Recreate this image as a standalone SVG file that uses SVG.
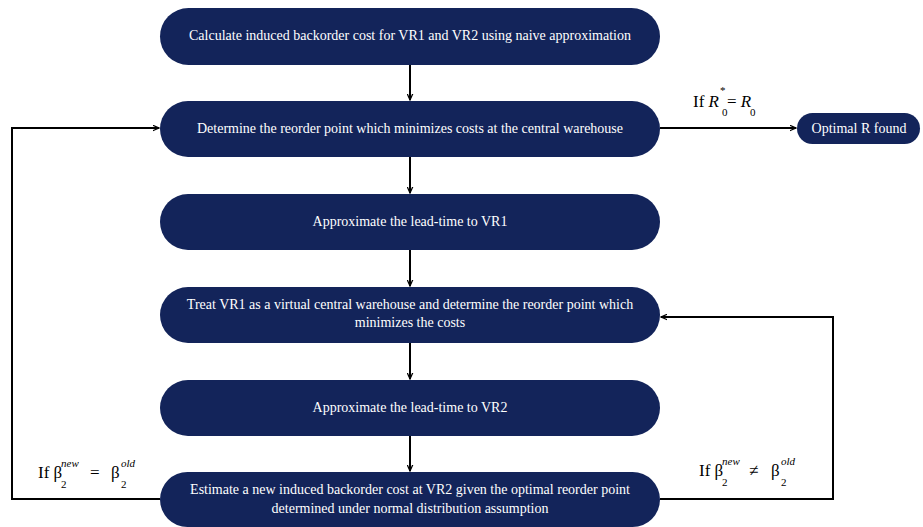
<svg xmlns="http://www.w3.org/2000/svg" width="923" height="527" viewBox="0 0 923 527">
<defs>
<marker id="ah" viewBox="0 0 10 10" refX="9" refY="5" markerWidth="7" markerHeight="7" orient="auto" markerUnits="userSpaceOnUse">
<path d="M0,1 L9,5 L0,9" fill="none" stroke="#000" stroke-width="1.8"/>
</marker>
<style>
.box{fill:#13245a;}
.t{font-family:'Liberation Serif','Times New Roman',serif;font-size:14px;fill:#fff;text-anchor:middle;}
.c{fill:none;stroke:#000;stroke-width:2;}
.l{font-family:'Liberation Serif','Times New Roman',serif;font-size:17px;fill:#000;}
.s{font-size:11px;}
.i{font-style:italic;}
</style>
</defs>
<rect width="923" height="527" fill="#fff"/>
<g id="connectors">
<line class="c" x1="410" y1="65" x2="410" y2="100" marker-end="url(#ah)"/>
<line class="c" x1="410" y1="157" x2="410" y2="193" marker-end="url(#ah)"/>
<line class="c" x1="410" y1="250" x2="410" y2="286" marker-end="url(#ah)"/>
<line class="c" x1="410" y1="343" x2="410" y2="379" marker-end="url(#ah)"/>
<line class="c" x1="410" y1="436" x2="410" y2="471" marker-end="url(#ah)"/>
<line class="c" x1="660" y1="128" x2="796" y2="128" marker-end="url(#ah)"/>
<polyline class="c" points="160,499 12,499 12,128 159,128" marker-end="url(#ah)"/>
<polyline class="c" points="660,499 833,499 833,317 661,317" marker-end="url(#ah)"/>
</g>
<g id="n1"><rect class="box" x="160" y="8" width="500" height="57" rx="28.5"/><text class="t" x="410" y="40">Calculate induced backorder cost for VR1 and VR2 using naive approximation</text></g>
<g id="n2"><rect class="box" x="160" y="101" width="500" height="56" rx="28"/><text class="t" x="410" y="133">Determine the reorder point which minimizes costs at the central warehouse</text></g>
<g id="n3"><rect class="box" x="160" y="194" width="500" height="56" rx="28"/><text class="t" x="410" y="226">Approximate the lead-time to VR1</text></g>
<g id="n4"><rect class="box" x="160" y="287" width="500" height="56" rx="28"/><text class="t" x="410" y="309">Treat VR1 as a virtual central warehouse and determine the reorder point which</text><text class="t" x="410" y="327">minimizes the costs</text></g>
<g id="n5"><rect class="box" x="160" y="380" width="500" height="56" rx="28"/><text class="t" x="410" y="412">Approximate the lead-time to VR2</text></g>
<g id="n6"><rect class="box" x="160" y="472" width="500" height="55" rx="27.5"/><text class="t" x="410" y="494">Estimate a new induced backorder cost at VR2 given the optimal reorder point</text><text class="t" x="410" y="513">determined under normal distribution assumption</text></g>
<g id="n7"><rect class="box" x="797" y="113" width="123" height="31" rx="15.5"/><text class="t" x="859" y="133">Optimal R found</text></g>
<g id="lbl-r">
<text class="l" x="693" y="107">If <tspan class="i">R</tspan></text>
<text class="l s" x="722" y="116">0</text>
<text class="l s" x="720" y="94">*</text>
<text class="l" x="727" y="107">= <tspan class="i">R</tspan></text>
<text class="l s" x="750" y="116">0</text>
</g>
<g id="lbl-eq">
<text class="l" x="38" y="478">If β</text>
<text class="l s" x="61" y="488">2</text>
<text class="l s i" x="61" y="467">new</text>
<text class="l" x="90" y="478">=</text>
<text class="l" x="111" y="478">β</text>
<text class="l s" x="121" y="488">2</text>
<text class="l s i" x="121" y="467">old</text>
</g>
<g id="lbl-ne">
<text class="l" x="699" y="476">If β</text>
<text class="l s" x="722" y="486">2</text>
<text class="l s i" x="722" y="465">new</text>
<text class="l" x="749" y="476">≠</text>
<text class="l" x="771" y="476">β</text>
<text class="l s" x="781" y="486">2</text>
<text class="l s i" x="781" y="465">old</text>
</g>
</svg>
